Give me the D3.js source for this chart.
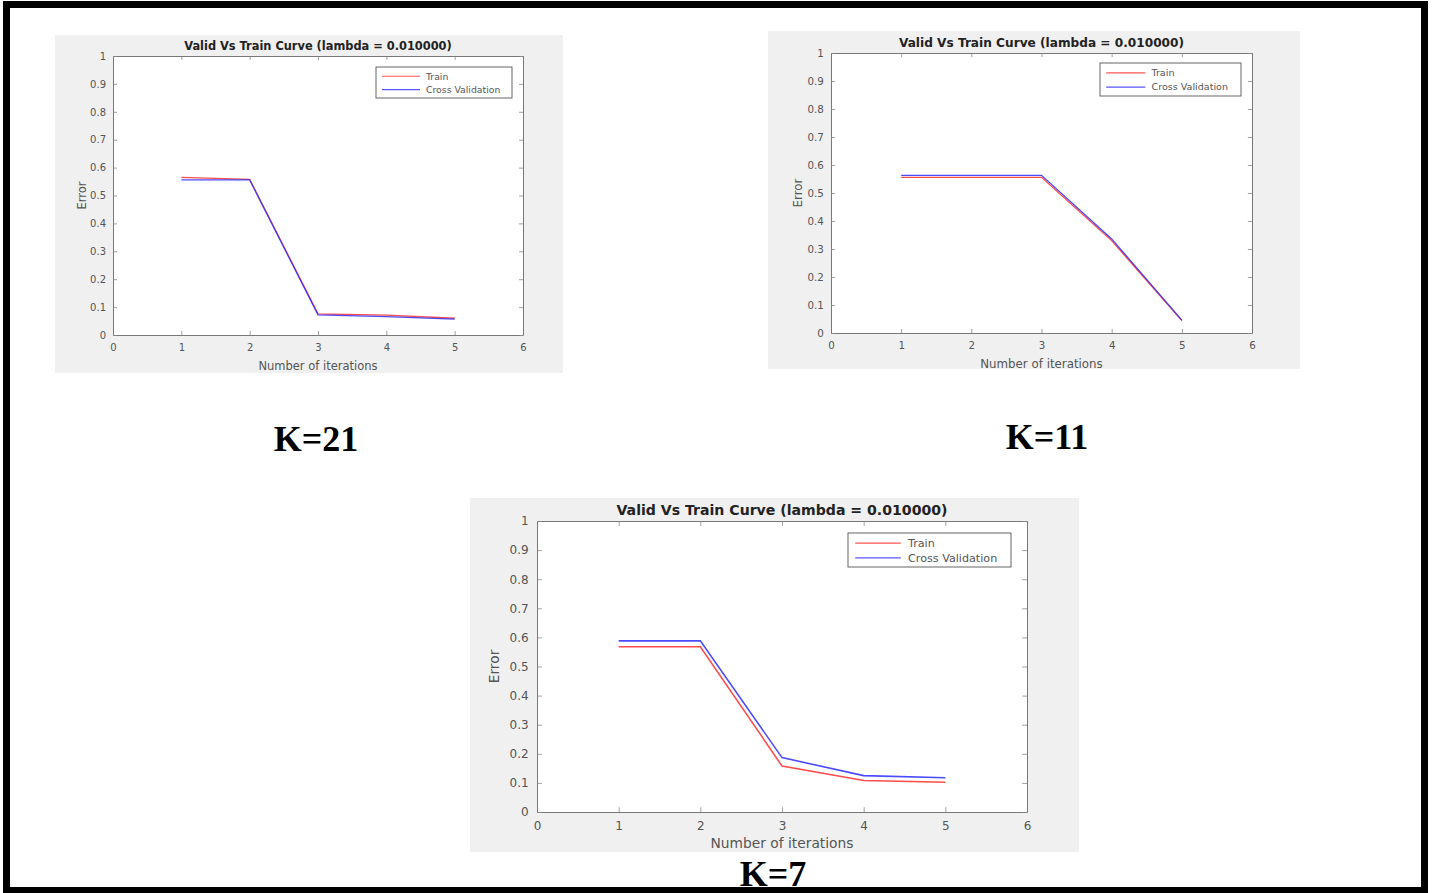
<!DOCTYPE html>
<html><head><meta charset="utf-8">
<script src="https://cdn.jsdelivr.net/npm/d3@7"></script>
<style>body{margin:0;background:#fff;overflow:hidden}</style>
</head><body>
<svg id="c" width="1434" height="893"></svg>
<script>
// ---- data ----
const iterations = [1, 2, 3, 4, 5];
const xTicks = [0, 1, 2, 3, 4, 5, 6];
const yTicks = [0, 0.1, 0.2, 0.3, 0.4, 0.5, 0.6, 0.7, 0.8, 0.9, 1];
const yTickLabels = ["0", "0.1", "0.2", "0.3", "0.4", "0.5", "0.6", "0.7", "0.8", "0.9", "1"];
const seriesNames = ["Train", "Cross Validation"];
const panelLabels = ["K=21", "K=11", "K=7"];
const chartTitle = "Valid Vs Train Curve (lambda = 0.010000)";
const xLabel = "Number of iterations";
const yLabel = "Error";

const trainK21 = [0.565, 0.558, 0.076, 0.071, 0.060];
const cvK21    = [0.556, 0.556, 0.072, 0.066, 0.057];
const trainK11 = [0.556, 0.556, 0.556, 0.330, 0.044];
const cvK11    = [0.563, 0.563, 0.563, 0.336, 0.046];
const trainK7  = [0.568, 0.568, 0.158, 0.108, 0.102];
const cvK7     = [0.588, 0.588, 0.187, 0.125, 0.118];

const panelSeries = [[trainK21, cvK21], [trainK11, cvK11], [trainK7, cvK7]];
const seriesColors = ["#ff2a2a", "#2a2aff"];

// ---- layout ----
const layout = [
  {bg: [55, 35, 563, 373],  plot: [113, 56, 523, 335],  s: 1.0,  sy: 1.0,  titleFs: 11.4, yLabOff: 27, legend: [376, 67, 512, 98],   label: [316, 451]},
  {bg: [768, 31, 1300, 369], plot: [831, 53, 1252, 333], s: 1.03, sy: 1.0, titleFs: 12.15, yLabOff: 29, legend: [1100, 63, 1241, 96], label: [1047, 449]},
  {bg: [470, 498, 1079, 852], plot: [537, 521, 1027, 812], s: 1.2, sy: 1.04, titleFs: 14.1, yLabOff: 38, legend: [848, 533, 1011, 567], label: [773, 886]}
];

const svg = d3.select("#c");
svg.append("rect").attr("width", 1434).attr("height", 893).attr("fill", "#fff");

layout.forEach((L, i) => {
  const g = svg.append("g");
  const [bx0, by0, bx1, by1] = L.bg;
  const [px0, py0, px1, py1] = L.plot;
  const s = L.s, sy = L.sy;
  g.append("rect").attr("x", bx0).attr("y", by0).attr("width", bx1 - bx0).attr("height", by1 - by0).attr("fill", "#f0f0f0");
  g.append("rect").attr("x", px0).attr("y", py0).attr("width", px1 - px0).attr("height", py1 - py0).attr("fill", "#fff");

  const x = d3.scaleLinear().domain([0, 6]).range([px0, px1]);
  const y = d3.scaleLinear().domain([0, 1]).range([py1, py0]);
  const tl = 4 * s;
  const tickFont = 10 * s;

  // axes (ticks inward on all sides)
  const axB = d3.axisBottom(x).tickValues(xTicks).tickFormat(d3.format("d")).tickSizeInner(-tl).tickSizeOuter(0).tickPadding(9 * sy);
  const axT = d3.axisTop(x).tickValues(xTicks).tickFormat("").tickSizeInner(-tl).tickSizeOuter(0);
  const axL = d3.axisLeft(y).tickValues(yTicks).tickFormat((d, k) => yTickLabels[k]).tickSizeInner(-tl).tickSizeOuter(0).tickPadding(7 * s);
  const axR = d3.axisRight(y).tickValues(yTicks).tickFormat("").tickSizeInner(-tl).tickSizeOuter(0);

  [[axB, `translate(0,${py1})`], [axT, `translate(0,${py0})`], [axL, `translate(${px0},0)`], [axR, `translate(${px1},0)`]].forEach(([ax, tr]) => {
    const a = g.append("g").attr("transform", tr).call(ax);
    a.selectAll("path").attr("stroke", "#777").attr("stroke-width", 1);
    a.selectAll("line").attr("stroke", "#888").attr("stroke-width", 0.8);
    a.selectAll("text").attr("fill", "#555").attr("font-family", "DejaVu Sans, sans-serif").attr("font-size", tickFont);
  });

  // lines
  const line = d3.line().x((d, k) => x(iterations[k])).y(d => y(d));
  panelSeries[i].forEach((vals, j) => {
    g.append("path").datum(vals).attr("d", line).attr("fill", "none")
      .attr("stroke", seriesColors[j]).attr("stroke-width", 1.3 * s).attr("stroke-opacity", 0.85);
  });

  // title
  g.append("text").attr("x", (px0 + px1) / 2).attr("y", py0 - 6 * sy).attr("text-anchor", "middle")
    .attr("font-family", "DejaVu Sans, sans-serif").attr("font-weight", "bold").attr("font-size", L.titleFs)
    .attr("fill", "#222").text(chartTitle);

  // axis labels
  g.append("text").attr("x", (px0 + px1) / 2).attr("y", py1 + 35 * sy).attr("text-anchor", "middle")
    .attr("font-family", "DejaVu Sans, sans-serif").attr("font-size", 11.5 * s).attr("fill", "#555").text(xLabel);
  g.append("text").attr("transform", `translate(${px0 - L.yLabOff},${(py0 + py1) / 2}) rotate(-90)`).attr("text-anchor", "middle")
    .attr("font-family", "DejaVu Sans, sans-serif").attr("font-size", 11.5 * s).attr("fill", "#555").text(yLabel);

  // legend
  const [lx0, ly0, lx1, ly1] = L.legend;
  const lg = g.append("g");
  lg.append("rect").attr("x", lx0).attr("y", ly0).attr("width", lx1 - lx0).attr("height", ly1 - ly0)
    .attr("fill", "#fff").attr("stroke", "#555").attr("stroke-width", 0.9);
  const rows = [ly0 + (ly1 - ly0) * 0.30, ly0 + (ly1 - ly0) * 0.73];
  seriesNames.forEach((nm, j) => {
    lg.append("line").attr("x1", lx0 + 6 * s).attr("x2", lx0 + 44 * s).attr("y1", rows[j]).attr("y2", rows[j])
      .attr("stroke", seriesColors[j]).attr("stroke-width", 1.1 * s).attr("stroke-opacity", 0.8);
    lg.append("text").attr("x", lx0 + 50 * s).attr("y", rows[j]).attr("dy", "0.35em")
      .attr("font-family", "DejaVu Sans, sans-serif").attr("font-size", 9.3 * s).attr("fill", "#555").text(nm);
  });

  // K label
  svg.append("text").attr("x", L.label[0]).attr("y", L.label[1]).attr("text-anchor", "middle")
    .attr("font-family", "Liberation Serif, Times New Roman, serif").attr("font-weight", "bold").attr("font-size", 36)
    .attr("fill", "#000").text(panelLabels[i]);
});

// outer frame
svg.append("rect").attr("x", 6.5).attr("y", 4.5).attr("width", 1418).attr("height", 886)
  .attr("fill", "none").attr("stroke", "#000").attr("stroke-width", 7);
</script>
</body></html>
